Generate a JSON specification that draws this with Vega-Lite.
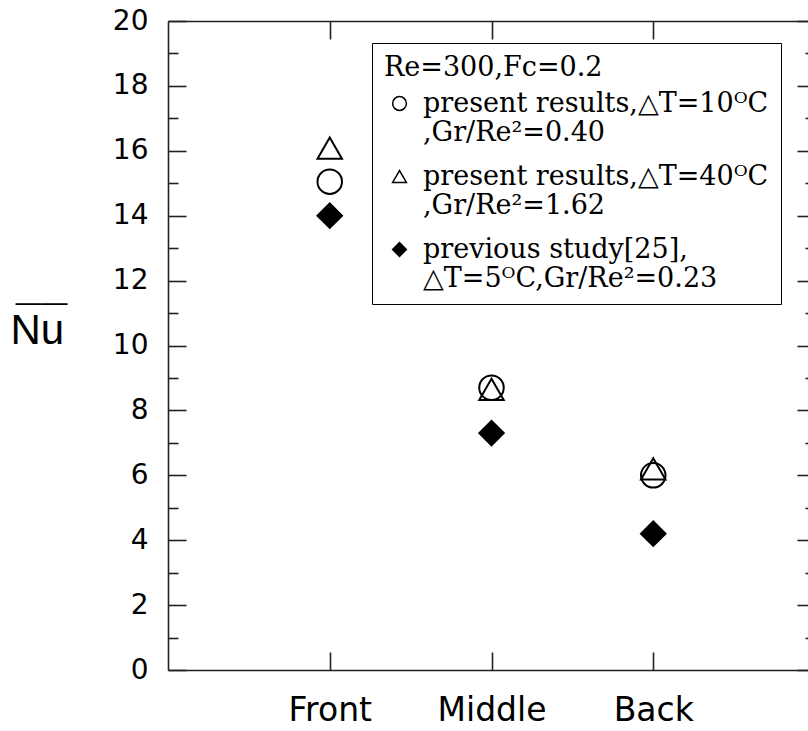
{
  "$schema": "https://vega.github.io/schema/vega-lite/v6.json",
  "autosize": "none",
  "width": 647,
  "height": 649,
  "padding": {"left": 168, "top": 21, "right": 0, "bottom": 61},
  "background": "white",
  "config": {
    "view": {"stroke": null},
    "axis": {"domainColor": "#222", "tickColor": "#222", "domainWidth": 1.6, "tickWidth": 1.6, "grid": false, "labelColor": "black"}
  },
  "data": {
    "values": [
      {"position": "Front", "series": "present results,△T=10ᴼC|,Gr/Re²=0.40", "Nu": 15.05},
      {"position": "Middle", "series": "present results,△T=10ᴼC|,Gr/Re²=0.40", "Nu": 8.7},
      {"position": "Back", "series": "present results,△T=10ᴼC|,Gr/Re²=0.40", "Nu": 6.0},
      {"position": "Front", "series": "present results,△T=40ᴼC|,Gr/Re²=1.62", "Nu": 16.08},
      {"position": "Middle", "series": "present results,△T=40ᴼC|,Gr/Re²=1.62", "Nu": 8.65},
      {"position": "Back", "series": "present results,△T=40ᴼC|,Gr/Re²=1.62", "Nu": 6.2},
      {"position": "Front", "series": "previous study[25],|△T=5ᴼC,Gr/Re²=0.23", "Nu": 14.0},
      {"position": "Middle", "series": "previous study[25],|△T=5ᴼC,Gr/Re²=0.23", "Nu": 7.3},
      {"position": "Back", "series": "previous study[25],|△T=5ᴼC,Gr/Re²=0.23", "Nu": 4.2}
    ]
  },
  "layer": [
    {
      "mark": {"type": "point", "stroke": "black", "strokeWidth": 2, "opacity": 1, "fillOpacity": 1, "size": 600},
      "encoding": {
        "x": {
          "field": "position", "type": "nominal",
          "scale": {"type": "point", "domain": ["Front", "Middle", "Back"], "padding": 1},
          "axis": {"orient": "bottom", "ticks": false, "domain": true, "labelAngle": 0, "labelFont": "DejaVu Sans", "labelFontSize": 33, "labelPadding": 24, "title": null}
        },
        "y": {
          "field": "Nu", "type": "quantitative",
          "scale": {"domain": [0, 20], "nice": false, "zero": false},
          "axis": {
            "orient": "left", "ticks": false, "domain": true,
            "values": [0, 2, 4, 6, 8, 10, 12, 14, 16, 18, 20],
            "labelFont": "DejaVu Sans", "labelFontSize": 28, "labelPadding": 20,
            "title": "Nu", "titleAngle": 0, "titleFont": "Liberation Sans", "titleFontSize": 42, "titleFontWeight": "normal",
            "titleAlign": "left", "titleBaseline": "alphabetic", "titleX": -158, "titleY": 322, "titleColor": "black"
          }
        },
        "shape": {
          "field": "series", "type": "nominal",
          "scale": {
            "domain": ["present results,△T=10ᴼC|,Gr/Re²=0.40", "present results,△T=40ᴼC|,Gr/Re²=1.62", "previous study[25],|△T=5ᴼC,Gr/Re²=0.23"],
            "range": ["circle", "triangle-up", "diamond"]
          },
          "legend": {
            "orient": "none", "legendX": 204, "legendY": 22,
            "title": "Re=300,Fc=0.2", "titleFont": "DejaVu Serif", "titleFontSize": 27, "titleFontWeight": "normal", "titleColor": "black", "titlePadding": 8, "titleLimit": 1000,
            "labelFont": "DejaVu Serif", "labelFontSize": 27, "labelColor": "black",
            "labelExpr": "split(datum.label, '|')",
            "labelOffset": 10, "symbolOffset": 2, "labelLimit": 1000,
            "strokeColor": "black", "fillColor": "white", "padding": 12, "rowPadding": 16,
            "labelBaseline": "middle", "symbolSize": 190
          }
        },
        "fill": {
          "field": "series", "type": "nominal",
          "scale": {
            "domain": ["present results,△T=10ᴼC|,Gr/Re²=0.40", "present results,△T=40ᴼC|,Gr/Re²=1.62", "previous study[25],|△T=5ᴼC,Gr/Re²=0.23"],
            "range": ["transparent", "transparent", "black"]
          }
        }
      }
    },
    {
      "mark": {"type": "point", "opacity": 0},
      "encoding": {
        "x": {"field": "position", "type": "nominal", "axis": {"orient": "bottom", "labels": false, "domain": false, "ticks": true, "tickSize": -18, "title": null}},
        "y": {"field": "Nu", "type": "quantitative", "axis": {
          "orient": "left", "labels": false, "domain": false, "tickSize": -18, "values": [0, 2, 4, 6, 8, 10, 12, 14, 16, 18, 20],
          "title": "——", "titleAngle": 0, "titleFont": "Liberation Sans", "titleFontSize": 26, "titleFontWeight": "normal",
          "titleAlign": "left", "titleBaseline": "alphabetic", "titleX": -153, "titleY": 289, "titleColor": "black"
        }}
      }
    },
    {
      "mark": {"type": "point", "opacity": 0},
      "encoding": {
        "x": {"field": "position", "type": "nominal", "axis": {"orient": "top", "labels": false, "domain": true, "ticks": true, "tickSize": -18, "title": null}},
        "y": {"field": "Nu", "type": "quantitative", "axis": {"orient": "left", "labels": false, "domain": false, "tickSize": -10, "values": [1, 3, 5, 7, 9, 11, 13, 15, 17, 19], "title": null}}
      }
    },
    {
      "mark": {"type": "point", "opacity": 0},
      "encoding": {
        "x": {"field": "position", "type": "nominal", "axis": null},
        "y": {"field": "Nu", "type": "quantitative", "axis": {"orient": "right", "labels": false, "domain": true, "tickSize": -18, "values": [0, 2, 4, 6, 8, 10, 12, 14, 16, 18, 20], "title": null}}
      }
    },
    {
      "mark": {"type": "point", "opacity": 0},
      "encoding": {
        "x": {"field": "position", "type": "nominal", "axis": null},
        "y": {"field": "Nu", "type": "quantitative", "axis": {"orient": "right", "labels": false, "domain": false, "tickSize": -10, "values": [1, 3, 5, 7, 9, 11, 13, 15, 17, 19], "title": null}}
      }
    }
  ],
  "resolve": {"axis": {"x": "independent", "y": "independent"}}
}
